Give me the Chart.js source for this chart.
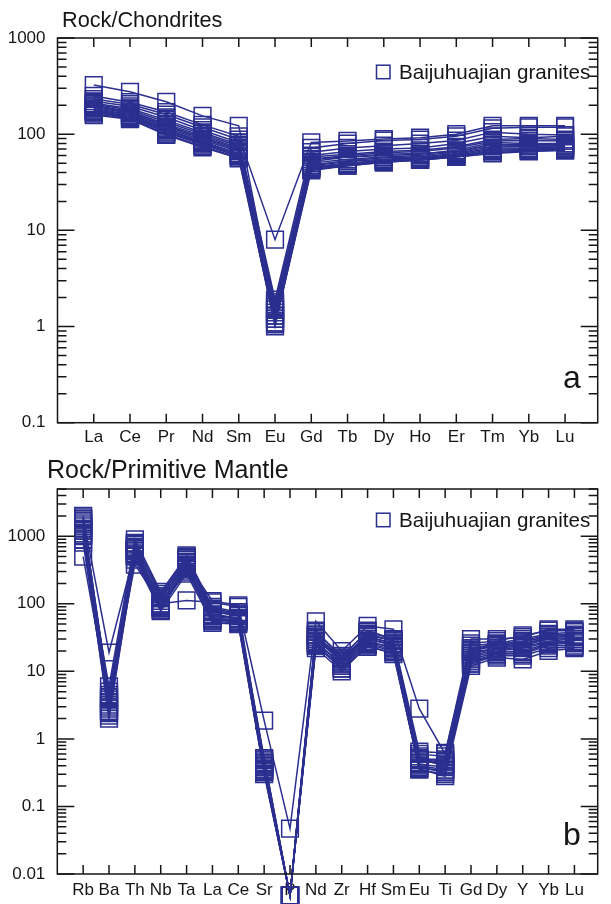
<!DOCTYPE html>
<html>
<head>
<meta charset="utf-8">
<script src="https://cdn.jsdelivr.net/npm/chart.js@4.4.0/dist/chart.umd.min.js"></script>
<style>
body { margin: 0; background: #fff; }
#wrap { position: relative; width: 611px; height: 904px; overflow: hidden; }
canvas { position: absolute; left: 0; }
</style>
</head>
<body>
<div id="wrap">
  <canvas id="reeChart" width="611" height="450" style="top:0"></canvas>
  <canvas id="spiderChart" width="611" height="454" style="top:450px"></canvas>
</div>
<script>
// Panel a: chondrite-normalised REE
const reeLabels = ['La', 'Ce', 'Pr', 'Nd', 'Sm', 'Eu', 'Gd', 'Tb', 'Dy', 'Ho', 'Er', 'Tm', 'Yb', 'Lu'];
const reeTicks = [0.1, 1, 10, 100, 1000];
const ree01 = [324, 276, 217, 155, 122, 1.5, 55, 58, 62, 63, 66, 78, 76, 75];
const ree02 = [250, 215, 170, 125, 95, 8.0, 82, 85, 89, 92, 100, 122, 122, 122];
const ree03 = [232, 205, 160, 118, 88, 1.9, 72, 80, 86, 88, 95, 115, 118, 118];
const ree04 = [220, 195, 150, 110, 82, 1.7, 65, 72, 76, 80, 86, 105, 100, 98];
const ree05 = [210, 185, 140, 104, 78, 1.4, 60, 66, 70, 72, 80, 95, 92, 95];
const ree06 = [205, 178, 134, 100, 75, 1.3, 58, 62, 66, 68, 74, 88, 90, 88];
const ree07 = [200, 172, 128, 96, 72, 1.2, 55, 60, 64, 66, 72, 85, 86, 85];
const ree08 = [195, 168, 124, 93, 70, 1.6, 52, 58, 60, 62, 68, 82, 80, 80];
const ree09 = [190, 165, 120, 90, 68, 1.1, 50, 55, 58, 60, 65, 78, 78, 78];
const ree10 = [185, 160, 116, 87, 66, 1.8, 48, 53, 57, 58, 63, 75, 75, 76];
const ree11 = [180, 157, 112, 84, 63, 1.0, 47, 52, 55, 57, 62, 72, 72, 74];
const ree12 = [176, 153, 110, 82, 62, 1.3, 46, 50, 54, 56, 60, 70, 70, 72];
const ree13 = [172, 150, 106, 80, 60, 1.5, 45, 49, 53, 55, 59, 68, 69, 70];
const ree14 = [168, 148, 104, 78, 59, 1.2, 44, 48, 52, 54, 59, 66, 68, 69];
const ree15 = [163, 145, 100, 75, 57, 1.1, 43, 47, 51, 54, 58, 64, 67, 68];
const ree16 = [158, 143, 98, 73, 56, 1.05, 42, 47, 51, 54, 58, 63, 66, 68];
const reeSeries = [ree01, ree02, ree03, ree04, ree05, ree06, ree07, ree08,
                   ree09, ree10, ree11, ree12, ree13, ree14, ree15, ree16];

// Panel b: primitive-mantle-normalised trace elements
const pmLabels = ['Rb', 'Ba', 'Th', 'Nb', 'Ta', 'La', 'Ce', 'Sr', 'P', 'Nd',
                  'Zr', 'Hf', 'Sm', 'Eu', 'Ti', 'Gd', 'Dy', 'Y', 'Yb', 'Lu'];
const pmTicks = [0.01, 0.1, 1, 10, 100, 1000];
const pm01 = [2000, 3.5, 800, 140, 520, 90, 75, 0.45, 0.0048, 40, 16, 40, 30, 0.5, 0.5, 22, 25, 28, 35, 35];
const pm02 = [1900, 19, 600, 120, 400, 110, 95, 1.86, 0.047, 55, 20, 47, 42, 2.8, 0.6, 30, 30, 32, 42, 42];
const pm03 = [1800, 4.5, 750, 130, 480, 80, 70, 0.4, 0.0048, 35, 15, 35, 28, 0.45, 0.45, 20, 24, 25, 32, 33];
const pm04 = [1600, 3.0, 700, 110, 450, 75, 68, 0.42, 0.0048, 32, 14, 33, 26, 0.55, 0.4, 18, 22, 24, 30, 30];
const pm05 = [1500, 2.5, 680, 100, 420, 70, 62, 0.38, 0.0048, 30, 14, 30, 25, 0.42, 0.38, 17, 21, 23, 28, 30];
const pm06 = [1400, 4.0, 650, 95, 380, 65, 60, 0.35, 0.0048, 28, 12, 28, 22, 0.4, 0.35, 16, 20, 22, 27, 28];
const pm07 = [1300, 2.2, 620, 90, 350, 60, 58, 0.5, 0.0048, 26, 13, 30, 24, 0.6, 0.55, 15, 19, 20, 26, 27];
const pm08 = [1200, 5.0, 600, 88, 330, 58, 55, 0.33, 0.0048, 25, 11, 26, 21, 0.38, 0.32, 14, 18, 19, 25, 26];
const pm09 = [1100, 2.8, 560, 85, 320, 55, 52, 0.3, 0.0048, 24, 12, 25, 20, 0.35, 0.3, 13, 18, 18, 24, 24];
const pm10 = [1050, 3.2, 520, 92, 300, 62, 56, 0.48, 0.0048, 27, 13, 27, 23, 0.48, 0.42, 19, 22, 26, 30, 32];
const pm11 = [1000, 2.0, 500, 80, 360, 68, 60, 0.36, 0.0048, 30, 15, 32, 26, 0.44, 0.48, 21, 24, 27, 33, 34];
const pm12 = [900, 6.0, 900, 150, 500, 85, 72, 0.52, 0.0048, 38, 17, 38, 30, 0.65, 0.62, 24, 26, 30, 36, 38];
const pm13 = [800, 2.4, 450, 78, 280, 52, 50, 0.32, 0.0048, 22, 10, 24, 18, 0.36, 0.28, 12, 16, 15, 20, 22];
const pm14 = [500, 3.8, 380, 100, 112, 105, 90, 0.4, 0.0048, 35, 14, 36, 28, 0.5, 0.4, 22, 25, 28, 32, 34];
const pm15 = [1700, 4.2, 780, 125, 470, 78, 66, 0.44, 0.0048, 34, 16, 34, 29, 0.52, 0.46, 26, 28, 34, 40, 40];
const pm16 = [1250, 2.6, 540, 86, 340, 58, 54, 0.34, 0.0048, 24, 11, 23, 19, 0.37, 0.34, 13, 17, 17, 22, 23];
const pmSeries = [pm01, pm02, pm03, pm04, pm05, pm06, pm07, pm08,
                  pm09, pm10, pm11, pm12, pm13, pm14, pm15, pm16];

const navy = '#2b2f8f';
const ink = '#161616';
const fam = '"Liberation Sans", Arial, sans-serif';
const legendText = 'Baijuhuajian granites';

// let points below the axis (P) be drawn: Chart.js skips points outside chartArea
const outsidePoints = {
    id: 'outsidePoints',
    beforeDatasetsDraw(chart) {
        chart._savedArea = chart.chartArea;
        chart.chartArea = Object.assign({}, chart.chartArea, { bottom: chart.height + 20 });
    },
    afterDatasetsDraw(chart) {
        chart.chartArea = chart._savedArea;
    }
};

// frame, inward ticks, title, legend and panel letter
function framePlugin(p) {
    return {
        id: 'frame',
        afterDraw(chart) {
            const ctx = chart.ctx;
            const a = chart.chartArea;
            const x = chart.scales.x;
            const y = chart.scales.y;
            ctx.save();
            ctx.strokeStyle = ink;
            ctx.lineWidth = 1.5;
            ctx.strokeRect(a.left, a.top, a.right - a.left, a.bottom - a.top);

            ctx.beginPath();
            p.labels.forEach(function(l, i) {
                const px = x.getPixelForValue(i);
                ctx.moveTo(px, a.bottom); ctx.lineTo(px, a.bottom - 9);
                ctx.moveTo(px, a.top); ctx.lineTo(px, a.top + 9);
            });
            const e0 = Math.floor(Math.log10(p.yMin));
            const e1 = Math.ceil(Math.log10(p.yMax));
            for (let e = e0; e <= e1; e++) {
                for (let m = 1; m <= 9; m++) {
                    const v = m * Math.pow(10, e);
                    if (v < p.yMin * 0.999 || v > p.yMax * 1.001) continue;
                    const py = y.getPixelForValue(v);
                    const len = m === 1 ? 17 : 9;
                    ctx.moveTo(a.left, py); ctx.lineTo(a.left + len, py);
                    ctx.moveTo(a.right, py); ctx.lineTo(a.right - len, py);
                }
            }
            ctx.stroke();

            // title
            ctx.fillStyle = ink;
            ctx.textBaseline = 'alphabetic';
            ctx.textAlign = 'left';
            ctx.font = p.titleSize + 'px ' + fam;
            ctx.fillText(p.title, p.titleX, p.titleY);

            // legend
            ctx.strokeStyle = navy;
            ctx.lineWidth = 1.5;
            ctx.strokeRect(376.5, p.legendY - 6.8, 13.5, 13.5);
            ctx.font = '20.6px ' + fam;
            ctx.fillText(legendText, 399, p.legendY + 6.8);

            // panel letter
            ctx.font = '32px ' + fam;
            ctx.textAlign = 'center';
            ctx.fillText(p.letter, 572, p.letterY);
            ctx.restore();
        }
    };
}

function buildChart(canvasId, p) {
    const datasets = p.series.map(function(vals) {
        return {
            data: vals.map(function(v, i) { return { x: i, y: v }; }),
            borderColor: navy,
            borderWidth: 1.5,
            pointStyle: 'rect',
            pointRadius: 11.8,
            pointBorderWidth: 1.5,
            pointBorderColor: navy,
            pointBackgroundColor: 'rgba(0,0,0,0)',
            fill: false,
            tension: 0,
            clip: p.clip
        };
    });

    const plugins = [framePlugin(p)];
    if (p.clip === false) plugins.push(outsidePoints);

    return new Chart(document.getElementById(canvasId), {
        type: 'line',
        data: { datasets: datasets },
        options: {
            responsive: false,
            animation: false,
            devicePixelRatio: 1,
            layout: { padding: { top: p.top, right: p.right, left: 0, bottom: 0 } },
            plugins: { legend: { display: false }, tooltip: { enabled: false } },
            scales: {
                x: {
                    type: 'linear',
                    min: -1,
                    max: p.xMax,
                    afterBuildTicks: function(s) { s.ticks = p.labels.map(function(l, i) { return { value: i }; }); },
                    afterFit: function(s) { s.height = p.xHeight; },
                    ticks: {
                        autoSkip: false, maxRotation: 0, padding: p.xPad, color: ink,
                        font: { size: 17, family: fam },
                        callback: function(v) { return p.labels[v]; }
                    },
                    grid: { display: false, drawTicks: false },
                    border: { display: false }
                },
                y: {
                    type: 'logarithmic',
                    min: p.yMin,
                    max: p.yMax,
                    afterBuildTicks: function(s) { s.ticks = p.yTicks.map(function(v) { return { value: v }; }); },
                    afterFit: function(s) { s.width = p.yWidth; },
                    ticks: {
                        padding: 12, color: ink,
                        font: { size: 17, family: fam },
                        callback: function(v) { return String(v); }
                    },
                    grid: { display: false, drawTicks: false },
                    border: { display: false }
                }
            }
        },
        plugins: plugins
    });
}

buildChart('reeChart', {
    labels: reeLabels, series: reeSeries, yTicks: reeTicks,
    yMin: 0.1, yMax: 1000, xMax: 13.9,
    top: 38, right: 3, yWidth: 57.5, xHeight: 27.3, xPad: 4, clip: undefined,
    title: 'Rock/Chondrites', titleSize: 21.7, titleX: 62, titleY: 27,
    legendY: 72, letter: 'a', letterY: 388
});

buildChart('spiderChart', {
    labels: pmLabels, series: pmSeries, yTicks: pmTicks,
    yMin: 0.01, yMax: 5000, xMax: 19.9,
    top: 39, right: 2.7, yWidth: 57.3, xHeight: 30, xPad: 6, clip: false,
    title: 'Rock/Primitive Mantle', titleSize: 25, titleX: 47, titleY: 28,
    legendY: 70, letter: 'b', letterY: 395
});
</script>
</body>
</html>
